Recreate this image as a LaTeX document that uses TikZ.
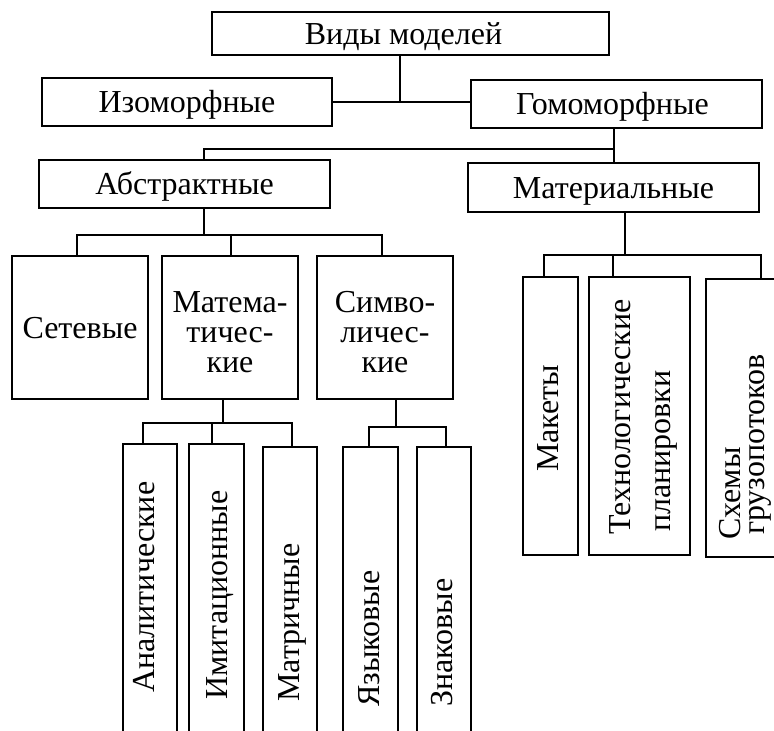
\documentclass[tikz,border=0pt]{standalone}
\usepackage{fontspec}
\setmainfont{Liberation Serif}
\begin{document}
\begin{tikzpicture}[x=1pt,y=-1pt,
  txt/.style={font=\fontsize{32}{30}\selectfont},
  box/.style={draw, line width=1.6pt, inner sep=0pt, align=center, txt},
  one/.style={text height=21pt, text depth=0pt},
  mlbl/.style={inner sep=0pt, align=center, txt},
  vlbl/.style={inner sep=0pt, txt, rotate=90, anchor=base west},
  con/.style={line width=1.6pt}]
\useasboundingbox (0,0) rectangle (774,731);
\clip (0,0) rectangle (774,731);
\fill[white] (0,0) rectangle (774,731);
% boxes
\node[box, one, minimum width=397pt, minimum height=43pt] (top) at (410.5,33.5) {Виды моделей\hspace{14pt}};
\node[box, one, minimum width=290pt, minimum height=48pt] (izo) at (187,102) {Изоморфные};
\node[box, one, minimum width=291pt, minimum height=48pt] (gomo) at (616.5,104) {Гомоморфные\hspace{8pt}};
\node[box, one, minimum width=291pt, minimum height=48pt] (abstr) at (184.5,184) {Абстрактные};
\node[box, one, minimum width=291pt, minimum height=49pt] (mater) at (613.5,187.5) {Материальные};
\node[box, one, minimum width=136pt, minimum height=143pt] (setev) at (80,327.5) {Сетевые};
\node[box, minimum width=136pt, minimum height=143pt] (matem) at (230,327.5) {};
\node[box, minimum width=136pt, minimum height=143pt] (simv) at (385,327.5) {};
\node[mlbl, yshift=-5pt] (lmatem) at (matem.center) {Матема-\\тичес-\\кие};
\node[mlbl, yshift=-5pt] (lsimv) at (simv.center) {Симво-\\личес-\\кие};
\node[box, minimum width=54pt, minimum height=336pt] (analit) at (150,612) {};
\node[box, minimum width=55pt, minimum height=336pt] (imit) at (216.5,612) {};
\node[box, minimum width=54pt, minimum height=333pt] (matrich) at (290,613.5) {};
\node[box, minimum width=55pt, minimum height=333pt] (yazyk) at (370.5,613.5) {};
\node[box, minimum width=54pt, minimum height=333pt] (znak) at (444,613.5) {};
\node[box, minimum width=55pt, minimum height=278pt] (makety) at (550.5,416) {};
\node[box, minimum width=101pt, minimum height=278pt] (tekhn) at (639.5,416) {};
\node[box, minimum width=104pt, minimum height=278pt] (skhemy) at (758,418) {};
% rotated labels
\node[vlbl] (lanalit) at (154,693) {Аналитические};
\node[vlbl] (limit) at (227,700) {Имитационные};
\node[vlbl] (lmatrich) at (299,702) {Матричные};
\node[vlbl] (lyazyk) at (379,707) {Языковые};
\node[vlbl] (lznak) at (452,707) {Знаковые};
\node[vlbl] (lmakety) at (558,472) {Макеты};
\node[vlbl] (ltekhn1) at (630,535) {Технологические};
\node[vlbl] (ltekhn2) at (670,532) {планировки};
\node[vlbl] (lskh1) at (740,540) {Схемы};
\node[vlbl] (lskh2) at (764,535) {грузопотоков};
% junction points
\coordinate (j0) at (400,102);
\coordinate (j1) at (614,149);
\coordinate (j1L) at (204,149);
\coordinate (j2) at (204,235);
\coordinate (a1) at (77,235);
\coordinate (a2) at (231,235);
\coordinate (a3) at (382,235);
\coordinate (m0) at (223,423);
\coordinate (m1) at (143,423);
\coordinate (m2) at (212,423);
\coordinate (m3) at (292,423);
\coordinate (s0) at (396,427);
\coordinate (s1) at (369,427);
\coordinate (s2) at (446,427);
\coordinate (t0) at (625,255);
\coordinate (t1) at (544,255);
\coordinate (t2) at (613,255);
\coordinate (t3) at (761,255);
% connectors
\draw[con] (top.south -| j0) -- (j0);
\draw[con] (izo.east |- j0) -- (gomo.west |- j0);
\draw[con] (gomo.south -| j1) -- (j1);
\draw[con] (abstr.north -| j1L) -- (j1L) -- (j1) -- (mater.north -| j1);
\draw[con] (abstr.south -| j2) -- (j2);
\draw[con] (setev.north -| a1) -- (a1) -- (a3) -- (simv.north -| a3);
\draw[con] (a2) -- (matem.north -| a2);
\draw[con] (matem.south -| m0) -- (m0);
\draw[con] (analit.north -| m1) -- (m1) -- (m3) -- (matrich.north -| m3);
\draw[con] (m2) -- (imit.north -| m2);
\draw[con] (simv.south -| s0) -- (s0);
\draw[con] (yazyk.north -| s1) -- (s1) -- (s2) -- (znak.north -| s2);
\draw[con] (mater.south -| t0) -- (t0);
\draw[con] (makety.north -| t1) -- (t1) -- (t3) -- (skhemy.north -| t3);
\draw[con] (t2) -- (tekhn.north -| t2);
\end{tikzpicture}
\end{document}
